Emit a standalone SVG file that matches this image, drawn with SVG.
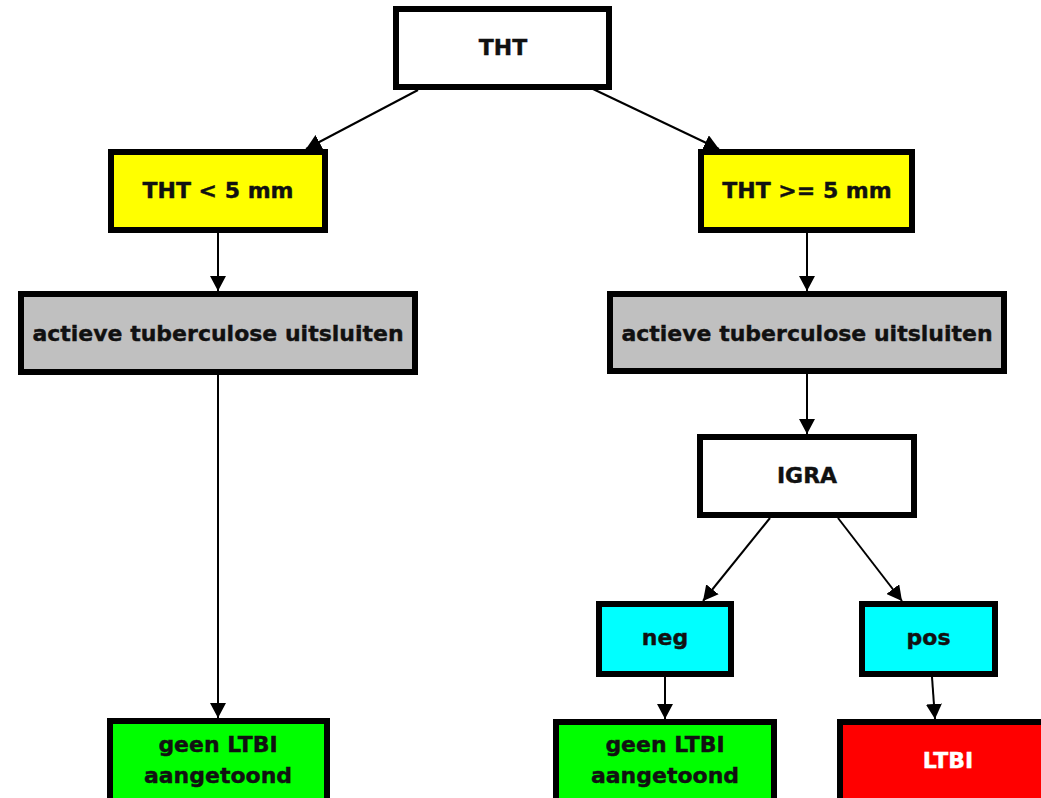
<svg xmlns="http://www.w3.org/2000/svg" width="1041" height="798" viewBox="0 0 1041 798">
  <defs>
    <style>
      .box { stroke: #000; stroke-width: 6; }
      .white { fill: #ffffff; }
      .yellow { fill: #ffff00; }
      .gray { fill: #c0c0c0; }
      .cyan { fill: #00ffff; }
      .green { fill: #00ff00; }
      .red { fill: #ff0000; }
      .lbl { font-family: "DejaVu Sans", Verdana, sans-serif; font-weight: bold; font-size: 22px; fill: #111111; stroke: #111111; stroke-width: 0.4; text-anchor: middle; }
      .lblw { fill: #ffffff; stroke: #ffffff; }
      .conn { stroke: #000; stroke-width: 2; fill: none; marker-end: url(#arr); }
    </style>
    <marker id="arr" markerUnits="userSpaceOnUse" markerWidth="16" markerHeight="16" viewBox="0 0 16 16" refX="15" refY="8" orient="auto">
      <path d="M0,0 L15,8 L0,16 z" fill="#000"/>
    </marker>
  </defs>
  <rect width="1041" height="798" fill="#ffffff"/>

  <g id="connectors">
    <line class="conn" x1="418" y1="90" x2="306" y2="149"/>
    <line class="conn" x1="593" y1="89" x2="719" y2="149"/>
    <line class="conn" x1="218" y1="233" x2="218" y2="291"/>
    <line class="conn" x1="807" y1="233" x2="807" y2="291"/>
    <line class="conn" x1="218" y1="375" x2="218" y2="718"/>
    <line class="conn" x1="807" y1="374" x2="807" y2="434"/>
    <line class="conn" x1="770" y1="518" x2="703" y2="601"/>
    <line class="conn" x1="838" y1="518" x2="902" y2="601"/>
    <line class="conn" x1="665" y1="677" x2="665" y2="719"/>
    <line class="conn" x1="932" y1="677" x2="935" y2="719"/>
  </g>

  <g id="node-tht">
    <rect class="box white" x="396" y="9" width="213" height="78"/>
    <text class="lbl" x="503" y="55">THT</text>
  </g>
  <g id="node-tht-lt5">
    <rect class="box yellow" x="111" y="152" width="214" height="78"/>
    <text class="lbl" x="218" y="198">THT &lt; 5 mm</text>
  </g>
  <g id="node-tht-ge5">
    <rect class="box yellow" x="701" y="152" width="211" height="78"/>
    <text class="lbl" x="807" y="198">THT &gt;= 5 mm</text>
  </g>
  <g id="node-actief-left">
    <rect class="box gray" x="21" y="294" width="394" height="78"/>
    <text class="lbl" x="218" y="341">actieve tuberculose uitsluiten</text>
  </g>
  <g id="node-actief-right">
    <rect class="box gray" x="610" y="294" width="394" height="77"/>
    <text class="lbl" x="807" y="341">actieve tuberculose uitsluiten</text>
  </g>
  <g id="node-igra">
    <rect class="box white" x="700" y="437" width="214" height="78"/>
    <text class="lbl" x="807" y="483">IGRA</text>
  </g>
  <g id="node-neg">
    <rect class="box cyan" x="599" y="604" width="132" height="70"/>
    <text class="lbl" x="665" y="645">neg</text>
  </g>
  <g id="node-pos">
    <rect class="box cyan" x="862" y="604" width="133" height="70"/>
    <text class="lbl" x="928.5" y="645">pos</text>
  </g>
  <g id="node-geen-left">
    <rect class="box green" x="110" y="721" width="217" height="90"/>
    <text class="lbl" x="218" y="752">geen LTBI</text>
    <text class="lbl" x="218" y="783">aangetoond</text>
  </g>
  <g id="node-geen-right">
    <rect class="box green" x="556" y="722" width="218" height="90"/>
    <text class="lbl" x="665" y="752">geen LTBI</text>
    <text class="lbl" x="665" y="783">aangetoond</text>
  </g>
  <g id="node-ltbi">
    <rect class="box red" x="840" y="722" width="218" height="90"/>
    <text class="lbl lblw" x="948" y="768">LTBI</text>
  </g>
</svg>
